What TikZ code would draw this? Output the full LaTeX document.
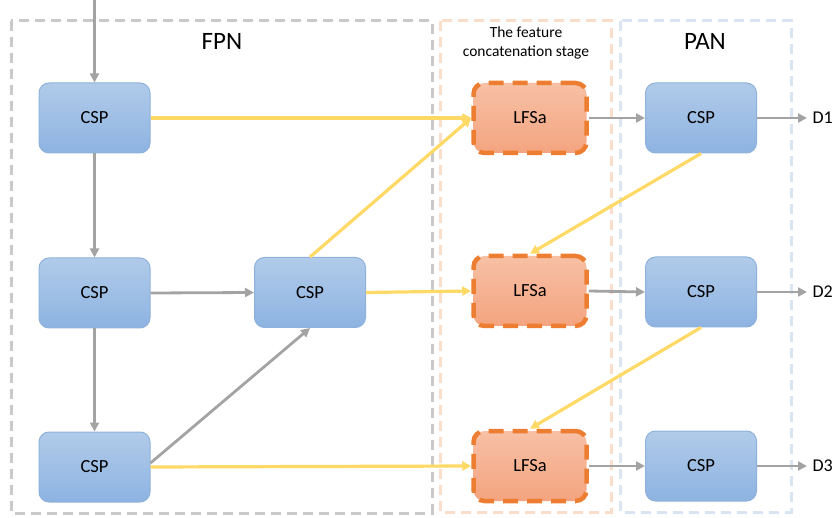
\documentclass[tikz,border=0pt]{standalone}
\usepackage{fontspec}
\setmainfont{Carlito}
\usetikzlibrary{arrows.meta}
\definecolor{cspTop}{HTML}{B1CBE9}
\definecolor{cspBot}{HTML}{8DB3E2}
\definecolor{cspEdge}{HTML}{8FB2DC}
\definecolor{lfTop}{HTML}{F7C0A5}
\definecolor{lfBot}{HTML}{F4A47F}
\definecolor{lfEdge}{HTML}{ED7D31}
\definecolor{grayLine}{HTML}{A3A3A3}
\definecolor{yelLine}{HTML}{FFD966}
\definecolor{fpnEdge}{HTML}{C9C9C9}
\definecolor{catEdge}{HTML}{FBDDCB}
\definecolor{panEdge}{HTML}{D9E5F3}
\begin{document}
\begin{tikzpicture}[x=1pt,y=-1pt,
  cspbox/.style={rounded corners=10pt, minimum width=111pt, minimum height=70pt,
    top color=cspTop, bottom color=cspBot, draw=cspEdge, line width=1pt,
    font=\fontsize{18.5}{20}\selectfont},
  lfsbox/.style={rounded corners=11pt, minimum width=113pt, minimum height=70pt,
    top color=lfTop, bottom color=lfBot, draw=lfEdge, line width=4.5pt,
    dash pattern=on 15pt off 9pt, font=\fontsize{18.5}{20}\selectfont},
  region/.style={line width=3pt, dash pattern=on 10pt off 6pt},
  garrow/.style={draw=grayLine, line width=2.8pt, -{Triangle[length=9pt,width=9pt]}},
  yarrow/.style={draw=yelLine, line width=3.2pt, -{Triangle[length=9pt,width=9pt]}},
  outlbl/.style={font=\fontsize{18}{20}\selectfont, anchor=west},
  title/.style={font=\fontsize{25}{28}\selectfont}
]
\useasboundingbox (0,0) rectangle (838,518);

% stage regions
\draw[region, draw=fpnEdge] (11,21) rectangle (432,513);
\draw[region, draw=catEdge] (440,21) rectangle (611,512);
\draw[region, draw=panEdge] (620,21) rectangle (791,512);

\node[title] (fpn) at (222,41) {FPN};
\node[title] (pan) at (705,41) {PAN};
\node[font=\fontsize{15.5}{19}\selectfont, align=center] (cat) at (526,43)
  {The feature\\concatenation stage};

% FPN blocks
\node[cspbox] (c1) at (94.5,118) {CSP};
\node[cspbox] (c2) at (94.5,293) {CSP};
\node[cspbox] (c3) at (94.5,467) {CSP};
\node[cspbox] (c4) at (310,292.5) {CSP};

% concatenation blocks
\node[lfsbox] (l1) at (530,118) {LFSa};
\node[lfsbox] (l2) at (530,291) {LFSa};
\node[lfsbox] (l3) at (530,466) {LFSa};

% PAN blocks
\node[cspbox] (p1) at (701,118) {CSP};
\node[cspbox] (p2) at (701,292) {CSP};
\node[cspbox] (p3) at (701,466) {CSP};

% outputs
\coordinate (in) at (94.5,0);
\coordinate (o1) at (807,118);
\coordinate (o2) at (807,292);
\coordinate (o3) at (807,466);
\node[outlbl] (d1) at (809,118) {D1};
\node[outlbl] (d2) at (809,292) {D2};
\node[outlbl] (d3) at (809,466) {D3};

% gray flow
\draw[garrow] (in) -- (c1.north);
\draw[garrow] (c1.south) -- (c2.north);
\draw[garrow] (c2.south) -- (c3.north);
\draw[garrow] (c2.east) -- (c4.west);
\draw[garrow] (c3.east |- 0,463) -- (c4.south);
\draw[garrow] (l1.east) -- (p1.west);
\draw[garrow] (l2.east) -- (p2.west);
\draw[garrow] (l3.east) -- (p3.west);
\draw[garrow] (p1.east) -- (o1);
\draw[garrow] (p2.east) -- (o2);
\draw[garrow] (p3.east) -- (o3);

% yellow feature links
\draw[yarrow] (c1.east) -- (l1.west);
\draw[yarrow] (c4.north) -- (l1.west);
\draw[yarrow] (c4.east) -- (l2.west);
\draw[yarrow] (c3.east) -- (l3.west);
\draw[yarrow] (p1.south) -- (l2.north);
\draw[yarrow] (p2.south) -- (l3.north);
\end{tikzpicture}
\end{document}
